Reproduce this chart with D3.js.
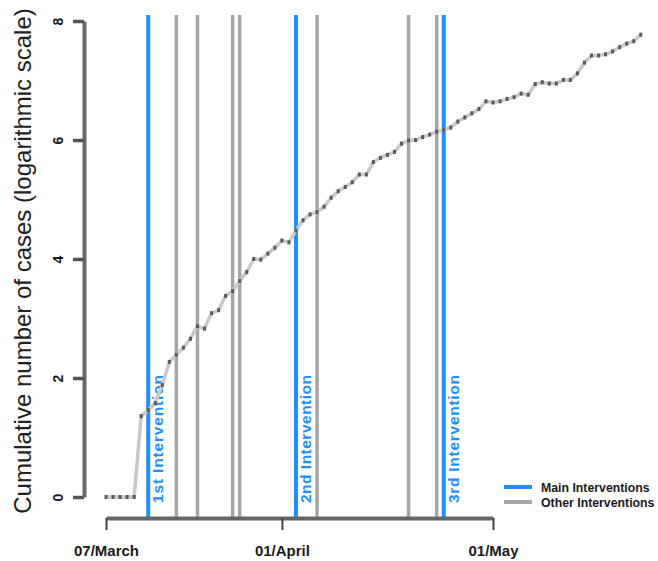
<!DOCTYPE html>
<html lang="en">
<head>
  <meta charset="UTF-8">
  <title>Cumulative cases</title>
  <style>
    body { margin: 0; background: #fff; }
    svg { display: block; font-family: "Liberation Sans", Arial, sans-serif; }
    .axis text { font-weight: bold; fill: #1a1a1a; }
  </style>
</head>
<body>
  <div id="chart"></div>
  <script src="https://cdn.jsdelivr.net/npm/d3@7"></script>
  <script>
    // daily log(cumulative cases), starting 07 March 2020
    var startDate = new Date(2020, 2, 7);
    var logCases = [
      0, 0, 0, 0, 0, 1.36, 1.46, 1.58, 1.88, 2.27,
      2.39, 2.51, 2.66, 2.87, 2.83, 3.09, 3.14, 3.38, 3.46, 3.63,
      3.78, 4.00, 3.99, 4.09, 4.19, 4.31, 4.28, 4.48, 4.65, 4.75,
      4.79, 4.88, 5.03, 5.14, 5.21, 5.29, 5.42, 5.42, 5.63, 5.70,
      5.75, 5.80, 5.94, 5.99, 6.00, 6.05, 6.09, 6.14, 6.17, 6.21,
      6.31, 6.38, 6.45, 6.52, 6.65, 6.63, 6.65, 6.69, 6.72, 6.78,
      6.76, 6.94, 6.97, 6.95, 6.95, 7.01, 7.01, 7.12, 7.30, 7.42,
      7.42, 7.44, 7.49, 7.56, 7.62, 7.66, 7.77
    ];
    var mainInterventions = ["2020-03-13", "2020-04-03", "2020-04-24"];
    var mainLabels = ["1st Intervention", "2nd Intervention", "3rd Intervention"];
    var otherInterventions = ["2020-03-17", "2020-03-20", "2020-03-25", "2020-03-26",
                              "2020-04-06", "2020-04-19", "2020-04-23"];
    var xTickDates = ["2020-03-07", "2020-04-01", "2020-05-01"];
    var xTickLabels = ["07/March", "01/April", "01/May"];
    var yTicks = [0, 2, 4, 6, 8];
    var legendLabels = ["Main Interventions", "Other Interventions"];

    var width = 658, height = 561;
    var blue = "#1e8fff", grey = "#a6a6a6";
    var parse = d3.timeParse("%Y-%m-%d");

    var points = logCases.map(function(v, i) {
      return { date: d3.timeDay.offset(startDate, i), value: v };
    });

    var svg = d3.select("#chart").append("svg")
      .attr("width", width).attr("height", height);

    var x = d3.scaleTime()
      .domain([parse(xTickDates[0]), parse(xTickDates[2])])
      .range([106, 493]);
    var y = d3.scaleLinear().domain([0, 8]).range([497, 21]);

    var plotTop = 15, axisY = 518, axisX = 84;

    // other interventions
    svg.selectAll("line.other").data(otherInterventions).enter().append("line")
      .attr("class", "other")
      .attr("x1", function(d) { return x(parse(d)); })
      .attr("x2", function(d) { return x(parse(d)); })
      .attr("y1", plotTop).attr("y2", axisY)
      .attr("stroke", grey).attr("stroke-width", 3.5);

    // main interventions
    svg.selectAll("line.main").data(mainInterventions).enter().append("line")
      .attr("class", "main")
      .attr("x1", function(d) { return x(parse(d)); })
      .attr("x2", function(d) { return x(parse(d)); })
      .attr("y1", plotTop).attr("y2", axisY)
      .attr("stroke", blue).attr("stroke-width", 4);

    svg.selectAll("text.mainlab").data(mainInterventions).enter().append("text")
      .attr("class", "mainlab")
      .attr("transform", function(d) {
        return "translate(" + (x(parse(d)) + 15) + ",503) rotate(-90)";
      })
      .attr("textLength", 128).attr("lengthAdjust", "spacing")
      .style("font-size", "15.5px").style("font-weight", "bold")
      .attr("fill", blue)
      .text(function(d, i) { return mainLabels[i]; });

    // cases line
    var line = d3.line()
      .x(function(d) { return x(d.date); })
      .y(function(d) { return y(d.value); });

    svg.append("path").datum(points)
      .attr("d", line)
      .attr("fill", "none")
      .attr("stroke", "#c9c9c9")
      .attr("stroke-width", 3.5);

    svg.selectAll("rect.pt").data(points).enter().append("rect")
      .attr("class", "pt")
      .attr("x", function(d) { return x(d.date) - 1.5; })
      .attr("y", function(d) { return y(d.value) - 2; })
      .attr("width", 3).attr("height", 4)
      .attr("fill", "#5a5a5a");

    // y axis
    var yAxis = d3.axisLeft(y).tickValues(yTicks).tickSize(11).tickSizeOuter(0);
    var gy = svg.append("g").attr("class", "axis")
      .attr("transform", "translate(" + axisX + ",0)")
      .call(yAxis);
    gy.select(".domain").attr("stroke", "#6a6a6a").attr("stroke-width", 4);
    gy.selectAll(".tick line").attr("stroke", "#555").attr("stroke-width", 3.5);
    gy.selectAll(".tick text")
      .attr("transform", "rotate(-90)")
      .attr("x", 0).attr("y", -21).attr("dy", null)
      .attr("text-anchor", "middle")
      .style("font-size", "14px");

    // x axis
    var xAxis = d3.axisBottom(x)
      .tickValues(xTickDates.map(parse))
      .tickFormat(function(d, i) { return xTickLabels[i]; })
      .tickSize(12).tickSizeOuter(0);
    var gx = svg.append("g").attr("class", "axis")
      .attr("transform", "translate(0," + axisY + ")")
      .call(xAxis);
    gx.select(".domain").attr("stroke", "#666").attr("stroke-width", 4);
    gx.selectAll(".tick line").attr("stroke", "#444").attr("stroke-width", 2);
    gx.selectAll(".tick text")
      .attr("y", 38).attr("dy", null)
      .style("font-size", "15px");

    // y title
    svg.append("text")
      .attr("transform", "translate(31,261) rotate(-90)")
      .attr("text-anchor", "middle")
      .style("font-size", "24px")
      .attr("fill", "#222")
      .text("Cumulative number of cases (logarithmic scale)");

    // legend
    var legend = svg.append("g").attr("transform", "translate(504,487)");
    legend.selectAll("line").data([blue, grey]).enter().append("line")
      .attr("x1", 0).attr("x2", 28)
      .attr("y1", function(d, i) { return i * 15; })
      .attr("y2", function(d, i) { return i * 15; })
      .attr("stroke", function(d) { return d; })
      .attr("stroke-width", 4);
    legend.selectAll("text").data(legendLabels).enter().append("text")
      .attr("x", 37)
      .attr("y", function(d, i) { return i * 15 + 4.5; })
      .style("font-size", "12.3px").style("font-weight", "bold")
      .attr("fill", "#1a1a1a")
      .text(function(d) { return d; });
  </script>
</body>
</html>
